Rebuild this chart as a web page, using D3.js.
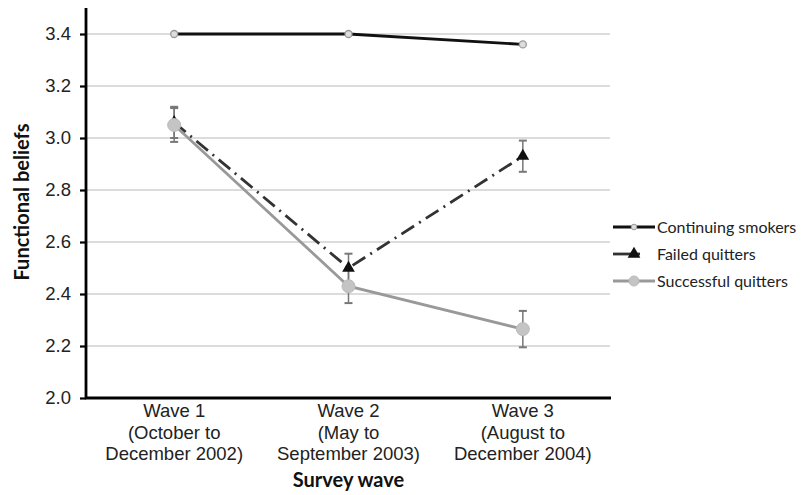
<!DOCTYPE html>
<html>
<head>
<meta charset="utf-8">
<script src="https://cdn.jsdelivr.net/npm/d3@7"></script>
<style>
body { margin: 0; background: #fff; }
</style>
</head>
<body>
<div id="chart"></div>
<script>
var width = 806;
var height = 495;

var waves = ["Wave 1", "Wave 2", "Wave 3"];
var waveLabels = [
  ["Wave 1", "(October to", "December 2002)"],
  ["Wave 2", "(May to", "September 2003)"],
  ["Wave 3", "(August to", "December 2004)"]
];
var yTicks = [2.0, 2.2, 2.4, 2.6, 2.8, 3.0, 3.2, 3.4];

var continuing = [3.40, 3.40, 3.36];
var failed = [3.06, 2.50, 2.93];
var failedErr = [0.06, 0.055, 0.06];
var successful = [3.05, 2.43, 2.265];
var successfulErr = [0.065, 0.065, 0.07];

var svg = d3.select("#chart").append("svg")
  .attr("width", width)
  .attr("height", height);

var xScale = d3.scalePoint().domain(waves).range([87, 610]).padding(0.5);
var yScale = d3.scaleLinear().domain([2.0, 3.5]).range([398, 8]);

// gridlines
svg.selectAll(".grid")
  .data(yTicks.slice(1))
  .enter().append("line")
  .attr("x1", 87).attr("x2", 610)
  .attr("y1", function(d) { return yScale(d); })
  .attr("y2", function(d) { return yScale(d); })
  .attr("stroke", "#d0d0d0")
  .attr("stroke-width", 1.5);

// y axis
var yAxis = d3.axisLeft(yScale).tickValues(yTicks).tickSize(6).tickPadding(9)
  .tickFormat(d3.format(".1f"));
var gy = svg.append("g").attr("transform", "translate(86,0)").call(yAxis);
gy.select(".domain").attr("stroke", "#000").attr("stroke-width", 2.8)
  .attr("d", "M0," + yScale(3.5) + "V" + yScale(2.0));
gy.selectAll(".tick line").attr("stroke", "#000").attr("stroke-width", 2.2);
gy.selectAll(".tick text")
  .attr("font-family", "Liberation Sans, Arial, sans-serif")
  .attr("font-size", 18.5)
  .attr("fill", "#222");

// x axis
svg.append("line")
  .attr("x1", 85).attr("x2", 611)
  .attr("y1", yScale(2.0)).attr("y2", yScale(2.0))
  .attr("stroke", "#000").attr("stroke-width", 2.8);

var xl = svg.selectAll(".xlab")
  .data(waves)
  .enter().append("text")
  .attr("text-anchor", "middle")
  .attr("font-family", "Liberation Sans, Arial, sans-serif")
  .attr("font-size", 18.5)
  .attr("fill", "#222")
  .attr("transform", function(d) { return "translate(" + xScale(d) + ",417)"; });
xl.selectAll("tspan")
  .data(function(d, i) { return waveLabels[i]; })
  .enter().append("tspan")
  .attr("x", 0)
  .attr("dy", function(d, i) { return i === 0 ? 0 : 21.5; })
  .text(function(d) { return d; });

svg.append("text")
  .attr("x", xScale("Wave 2")).attr("y", 487)
  .attr("text-anchor", "middle")
  .attr("font-family", "Lato, Open Sans, sans-serif")
  .attr("font-weight", "bold")
  .attr("font-size", 20)
  .attr("fill", "#111")
  .text("Survey wave");

svg.append("text")
  .attr("transform", "translate(29,202) rotate(-90)")
  .attr("text-anchor", "middle")
  .attr("font-family", "Lato, Open Sans, sans-serif")
  .attr("font-weight", "bold")
  .attr("font-size", 20)
  .attr("fill", "#111")
  .text("Functional beliefs");

var line = d3.line()
  .x(function(d, i) { return xScale(waves[i]); })
  .y(function(d) { return yScale(d); });

// error bars
function errorBars(vals, errs) {
  var g = svg.append("g");
  vals.forEach(function(v, i) {
    var x = xScale(waves[i]);
    var top = yScale(v + errs[i]), bot = yScale(v - errs[i]);
    g.append("line").attr("x1", x).attr("x2", x).attr("y1", top).attr("y2", bot)
      .attr("stroke", "#777").attr("stroke-width", 1.5);
    [top, bot].forEach(function(y) {
      g.append("line").attr("x1", x - 4).attr("x2", x + 4).attr("y1", y).attr("y2", y)
        .attr("stroke", "#777").attr("stroke-width", 2);
    });
  });
}
errorBars(failed, failedErr);
errorBars(successful, successfulErr);

// continuing smokers
svg.append("path").datum(continuing)
  .attr("d", line).attr("fill", "none")
  .attr("stroke", "#111").attr("stroke-width", 2.8);
svg.selectAll(".cpt").data(continuing).enter().append("circle")
  .attr("cx", function(d, i) { return xScale(waves[i]); })
  .attr("cy", function(d) { return yScale(d); })
  .attr("r", 3.5)
  .attr("fill", "#ddd").attr("stroke", "#999").attr("stroke-width", 1.3);

// failed quitters
svg.append("path").datum(failed)
  .attr("d", line).attr("fill", "none")
  .attr("stroke", "#333").attr("stroke-width", 2.8)
  .attr("stroke-dasharray", "15,6,2,6");
var tri = d3.symbol().type(d3.symbolTriangle).size(70);
svg.selectAll(".fpt").data(failed).enter().append("path")
  .attr("d", tri)
  .attr("transform", function(d, i) { return "translate(" + xScale(waves[i]) + "," + yScale(d) + ")"; })
  .attr("fill", "#111");

// successful quitters
svg.append("path").datum(successful)
  .attr("d", line).attr("fill", "none")
  .attr("stroke", "#999").attr("stroke-width", 2.8);
svg.selectAll(".spt").data(successful).enter().append("circle")
  .attr("cx", function(d, i) { return xScale(waves[i]); })
  .attr("cy", function(d) { return yScale(d); })
  .attr("r", 6.5)
  .attr("fill", "#c4c4c4").attr("stroke", "#bbb");

// legend
var legendNames = ["Continuing smokers", "Failed quitters", "Successful quitters"];
var legendY = [227, 254, 281];
var lg = svg.append("g");
lg.append("line").attr("x1", 613).attr("x2", 655).attr("y1", legendY[0]).attr("y2", legendY[0])
  .attr("stroke", "#111").attr("stroke-width", 2.8);
lg.append("circle").attr("cx", 634).attr("cy", legendY[0]).attr("r", 2.8)
  .attr("fill", "#ddd").attr("stroke", "#999");
lg.append("line").attr("x1", 613).attr("x2", 640).attr("y1", legendY[1]).attr("y2", legendY[1])
  .attr("stroke", "#333").attr("stroke-width", 2.8);
lg.append("path").attr("d", tri).attr("transform", "translate(634," + legendY[1] + ")").attr("fill", "#111");
lg.append("line").attr("x1", 613).attr("x2", 655).attr("y1", legendY[2]).attr("y2", legendY[2])
  .attr("stroke", "#999").attr("stroke-width", 2.8);
lg.append("circle").attr("cx", 634).attr("cy", legendY[2]).attr("r", 5)
  .attr("fill", "#c4c4c4").attr("stroke", "#bbb");
lg.selectAll("text").data(legendNames).enter().append("text")
  .attr("x", 657)
  .attr("y", function(d, i) { return legendY[i] + 6; })
  .attr("font-family", "Lato, Open Sans, sans-serif")
  .attr("font-size", 16)
  .attr("fill", "#222")
  .text(function(d) { return d; });
</script>
</body>
</html>
